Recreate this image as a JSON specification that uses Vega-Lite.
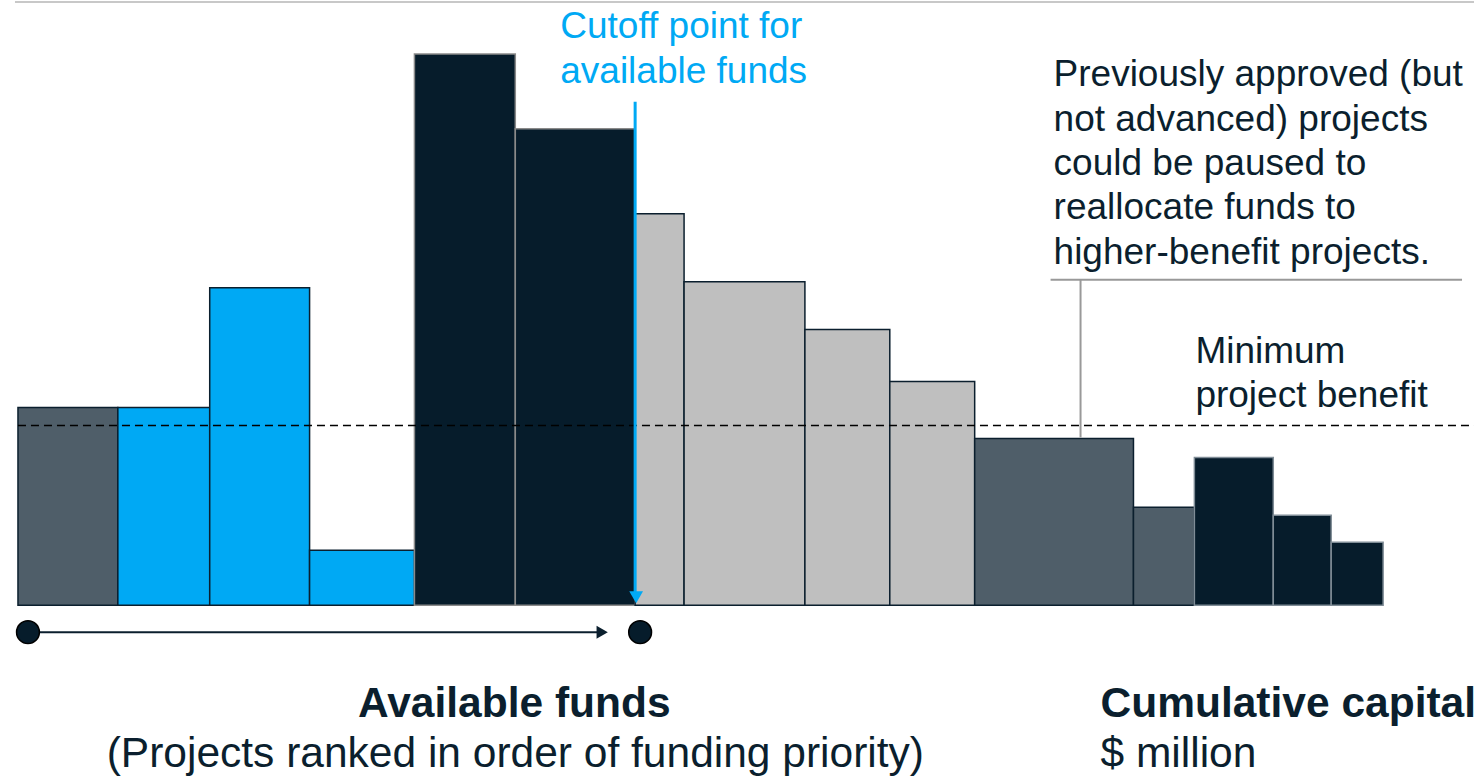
{
  "$schema": "https://vega.github.io/schema/vega-lite/v6.json",
  "autosize": {"type": "fit", "contains": "padding"},
  "width": 1476,
  "height": 778,
  "padding": 0,
  "background": "white",
  "config": {"view": {"stroke": null}, "text": {"font": "Liberation Sans"}},
  "datasets": {
    "bars": [
      {"project": 1, "start": 18, "end": 118, "benefit": 198, "group": "Previously approved"},
      {"project": 2, "start": 118, "end": 210, "benefit": 198, "group": "Funded"},
      {"project": 3, "start": 210, "end": 310, "benefit": 318, "group": "Funded"},
      {"project": 4, "start": 310, "end": 415, "benefit": 55, "group": "Funded"},
      {"project": 5, "start": 415, "end": 516, "benefit": 552, "group": "High priority"},
      {"project": 6, "start": 516, "end": 636, "benefit": 477, "group": "High priority"},
      {"project": 7, "start": 636, "end": 685, "benefit": 392, "group": "Unfunded"},
      {"project": 8, "start": 685, "end": 806, "benefit": 324, "group": "Unfunded"},
      {"project": 9, "start": 806, "end": 891, "benefit": 276, "group": "Unfunded"},
      {"project": 10, "start": 891, "end": 976, "benefit": 224, "group": "Unfunded"},
      {"project": 11, "start": 976, "end": 1135, "benefit": 167, "group": "Previously approved"},
      {"project": 12, "start": 1135, "end": 1196, "benefit": 98, "group": "Previously approved"},
      {"project": 13, "start": 1196, "end": 1275, "benefit": 148, "group": "Low"},
      {"project": 14, "start": 1275, "end": 1333, "benefit": 90, "group": "Low"},
      {"project": 15, "start": 1333, "end": 1385, "benefit": 63, "group": "Low"}
    ],
    "labels": [
      {"text": "Cutoff point for", "x": 561, "y": 568, "kind": "cutoff"},
      {"text": "available funds", "x": 561, "y": 523, "kind": "cutoff"},
      {"text": "Previously approved (but", "x": 1055, "y": 520, "kind": "note"},
      {"text": "not advanced) projects", "x": 1055, "y": 475, "kind": "note"},
      {"text": "could be paused to", "x": 1055, "y": 431, "kind": "note"},
      {"text": "reallocate funds to", "x": 1055, "y": 387, "kind": "note"},
      {"text": "higher-benefit projects.", "x": 1055, "y": 342, "kind": "note"},
      {"text": "Minimum", "x": 1197, "y": 243, "kind": "note"},
      {"text": "project benefit", "x": 1197, "y": 198, "kind": "note"}
    ]
  },
  "layer": [
    {
      "data": {"values": [{"a": 15, "b": 1476, "y": 604}]},
      "mark": {"type": "rule", "color": "#c8c8c8", "strokeWidth": 2},
      "encoding": {
        "x": {"field": "a", "type": "quantitative", "scale": {"domain": [0, 1476], "nice": false, "zero": false}, "axis": null},
        "x2": {"field": "b"},
        "y": {"field": "y", "type": "quantitative", "scale": {"domain": [-173, 605], "nice": false, "zero": false}, "axis": null}
      }
    },
    {
      "data": {"name": "bars"},
      "mark": {"type": "rect", "strokeWidth": 1.5},
      "encoding": {
        "x": {"field": "start", "type": "quantitative"},
        "x2": {"field": "end"},
        "y": {"field": "benefit", "type": "quantitative"},
        "y2": {"datum": 0},
        "fill": {"field": "group", "type": "nominal", "legend": null,
          "scale": {"domain": ["Previously approved", "Funded", "High priority", "Unfunded", "Low"],
                    "range": ["#4f5e69", "#00a9f4", "#061c2b", "#bfbfbf", "#061c2b"]}},
        "stroke": {"field": "group", "type": "nominal", "legend": null,
          "scale": {"domain": ["Previously approved", "Funded", "High priority", "Unfunded", "Low"],
                    "range": ["#0b1f2e", "#0b1f2e", "#8a8a8a", "#0b1f2e", "#7f8c96"]}}
      }
    },
    {
      "data": {"values": [{"a": 18, "b": 1476, "y": 180}]},
      "mark": {"type": "rule", "color": "#000000", "strokeWidth": 1.5, "strokeDash": [8, 5]},
      "encoding": {
        "x": {"field": "a", "type": "quantitative"},
        "x2": {"field": "b"},
        "y": {"field": "y", "type": "quantitative"}
      }
    },
    {
      "data": {"values": [{"x": 636, "top": 504, "bottom": 12}]},
      "mark": {"type": "rule", "color": "#00a9f4", "strokeWidth": 3},
      "encoding": {
        "x": {"field": "x", "type": "quantitative"},
        "y": {"field": "top", "type": "quantitative"},
        "y2": {"field": "bottom"}
      }
    },
    {
      "data": {"values": [{"x": 637, "y": 8}]},
      "mark": {"type": "point", "shape": "triangle-down", "filled": true, "color": "#00a9f4", "size": 190, "opacity": 1},
      "encoding": {
        "x": {"field": "x", "type": "quantitative"},
        "y": {"field": "y", "type": "quantitative"}
      }
    },
    {
      "data": {"values": [{"a": 1052, "b": 1464, "y": 326}]},
      "mark": {"type": "rule", "color": "#999999", "strokeWidth": 2},
      "encoding": {
        "x": {"field": "a", "type": "quantitative"},
        "x2": {"field": "b"},
        "y": {"field": "y", "type": "quantitative"}
      }
    },
    {
      "data": {"values": [{"x": 1082, "top": 326, "bottom": 168}]},
      "mark": {"type": "rule", "color": "#999999", "strokeWidth": 2},
      "encoding": {
        "x": {"field": "x", "type": "quantitative"},
        "y": {"field": "top", "type": "quantitative"},
        "y2": {"field": "bottom"}
      }
    },
    {
      "data": {"values": [{"a": 28, "b": 600, "y": -27}]},
      "mark": {"type": "rule", "color": "#0b1f2e", "strokeWidth": 2},
      "encoding": {
        "x": {"field": "a", "type": "quantitative"},
        "x2": {"field": "b"},
        "y": {"field": "y", "type": "quantitative"}
      }
    },
    {
      "data": {"values": [{"x": 603, "y": -27}]},
      "mark": {"type": "point", "shape": "triangle-right", "filled": true, "color": "#0b1f2e", "size": 170, "opacity": 1},
      "encoding": {
        "x": {"field": "x", "type": "quantitative"},
        "y": {"field": "y", "type": "quantitative"}
      }
    },
    {
      "data": {"values": [{"x": 28, "y": -27}, {"x": 641, "y": -27}]},
      "mark": {"type": "point", "shape": "circle", "filled": true, "fill": "#061c2b", "stroke": "#000000", "strokeWidth": 1.5, "size": 520, "opacity": 1},
      "encoding": {
        "x": {"field": "x", "type": "quantitative"},
        "y": {"field": "y", "type": "quantitative"}
      }
    },
    {
      "data": {"name": "labels"},
      "mark": {"type": "text", "align": "left", "baseline": "alphabetic", "fontSize": 37},
      "encoding": {
        "x": {"field": "x", "type": "quantitative"},
        "y": {"field": "y", "type": "quantitative"},
        "text": {"field": "text"},
        "color": {"field": "kind", "type": "nominal", "legend": null,
          "scale": {"domain": ["cutoff", "note"], "range": ["#00a9f4", "#0b1f2e"]}}
      }
    },
    {
      "data": {"values": [{"text": "Available funds", "x": 515, "y": -112}]},
      "mark": {"type": "text", "align": "center", "baseline": "alphabetic", "fontSize": 42.5, "fontWeight": "bold", "color": "#0b1f2e"},
      "encoding": {
        "x": {"field": "x", "type": "quantitative"},
        "y": {"field": "y", "type": "quantitative"},
        "text": {"field": "text"}
      }
    },
    {
      "data": {"values": [{"text": "Cumulative capital", "x": 1102, "y": -112}]},
      "mark": {"type": "text", "align": "left", "baseline": "alphabetic", "fontSize": 42.5, "fontWeight": "bold", "color": "#0b1f2e"},
      "encoding": {
        "x": {"field": "x", "type": "quantitative"},
        "y": {"field": "y", "type": "quantitative"},
        "text": {"field": "text"}
      }
    },
    {
      "data": {"values": [{"text": "(Projects ranked in order of funding priority)", "x": 516, "y": -162}]},
      "mark": {"type": "text", "align": "center", "baseline": "alphabetic", "fontSize": 42.5, "color": "#0b1f2e"},
      "encoding": {
        "x": {"field": "x", "type": "quantitative"},
        "y": {"field": "y", "type": "quantitative"},
        "text": {"field": "text"}
      }
    },
    {
      "data": {"values": [{"text": "$ million", "x": 1102, "y": -162}]},
      "mark": {"type": "text", "align": "left", "baseline": "alphabetic", "fontSize": 42.5, "color": "#0b1f2e"},
      "encoding": {
        "x": {"field": "x", "type": "quantitative"},
        "y": {"field": "y", "type": "quantitative"},
        "text": {"field": "text"}
      }
    }
  ]
}
